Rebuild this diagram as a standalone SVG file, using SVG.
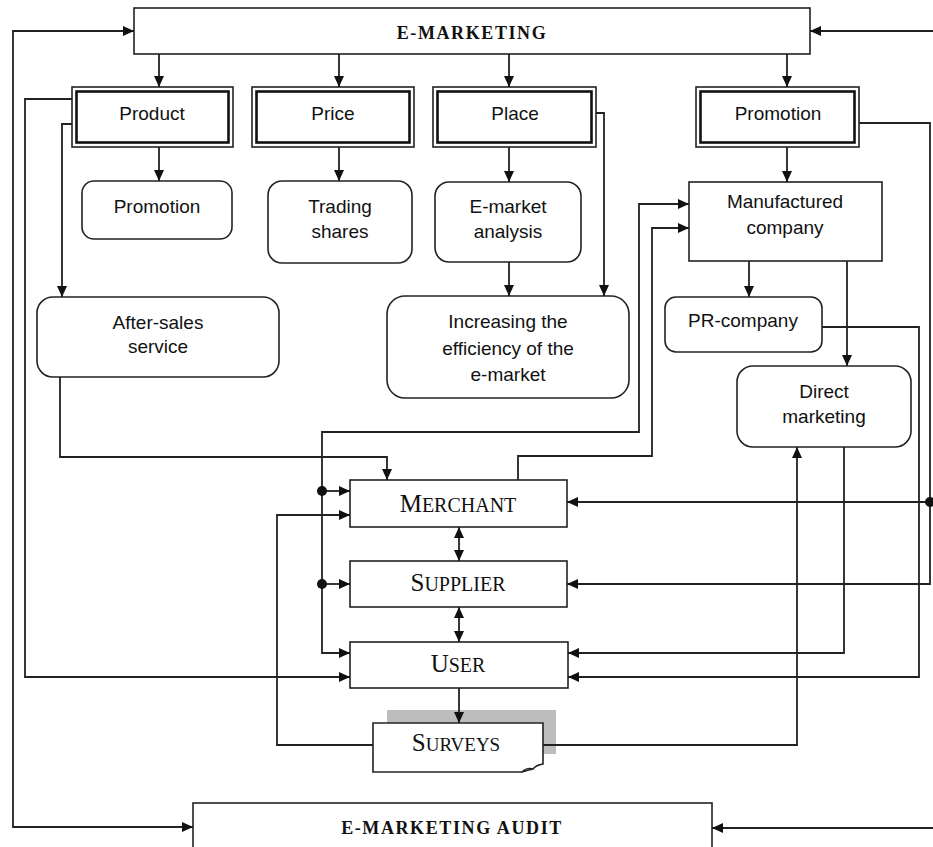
<svg xmlns="http://www.w3.org/2000/svg" width="933" height="847" viewBox="0 0 933 847">
<style>
.box{fill:#fff;stroke:#222;stroke-width:1.6}
.thick{fill:none;stroke:#111;stroke-width:2.6}
.c{fill:none;stroke:#222;stroke-width:1.8}
.sans{font-family:"Liberation Sans",Arial,sans-serif;font-size:19px;fill:#111;text-anchor:middle}
.ser{font-family:"Liberation Serif","Times New Roman",serif;fill:#111;text-anchor:middle}
.title{font-family:"Liberation Serif","Times New Roman",serif;font-weight:bold;font-size:18px;letter-spacing:1.6px;fill:#111;text-anchor:middle}
.big{font-size:25px}
.sm{font-size:20px}
</style>
<defs>
<marker id="ar" markerUnits="userSpaceOnUse" markerWidth="11" markerHeight="10" refX="11" refY="5" orient="auto-start-reverse">
<path d="M0,0 L11,5 L0,10 z" fill="#111"/>
</marker>
</defs>

<g id="e-marketing">
<rect class="box" x="134" y="8" width="676" height="46"/>
<text class="title" x="472" y="39">E-MARKETING</text>
</g>

<g id="product">
<rect class="box" x="72" y="87" width="161" height="60"/>
<rect class="thick" x="76.5" y="91.5" width="152" height="51"/>
<text class="sans" x="152" y="120">Product</text>
</g>
<g id="price">
<rect class="box" x="252" y="87" width="162" height="60"/>
<rect class="thick" x="256.5" y="91.5" width="153" height="51"/>
<text class="sans" x="333" y="120">Price</text>
</g>
<g id="place">
<rect class="box" x="433" y="87" width="163" height="60"/>
<rect class="thick" x="437.5" y="91.5" width="154" height="51"/>
<text class="sans" x="515" y="120">Place</text>
</g>
<g id="promotion-top">
<rect class="box" x="696" y="87" width="163" height="60"/>
<rect class="thick" x="700.5" y="91.5" width="154" height="51"/>
<text class="sans" x="778" y="120">Promotion</text>
</g>

<g id="promotion-sub">
<rect class="box" x="82" y="181" width="150" height="58" rx="12"/>
<text class="sans" x="157" y="213">Promotion</text>
</g>
<g id="trading-shares">
<rect class="box" x="268" y="181" width="144" height="82" rx="14"/>
<text class="sans" x="340" y="213">Trading</text>
<text class="sans" x="340" y="238">shares</text>
</g>
<g id="e-market-analysis">
<rect class="box" x="435" y="182" width="146" height="80" rx="14"/>
<text class="sans" x="508" y="213">E-market</text>
<text class="sans" x="508" y="238">analysis</text>
</g>
<g id="increasing">
<rect class="box" x="387" y="296" width="242" height="102" rx="18"/>
<text class="sans" x="508" y="328">Increasing the</text>
<text class="sans" x="508" y="355">efficiency of the</text>
<text class="sans" x="508" y="381">e-market</text>
</g>
<g id="manufactured-company">
<rect class="box" x="689" y="182" width="193" height="79"/>
<text class="sans" x="785" y="208">Manufactured</text>
<text class="sans" x="785" y="234">company</text>
</g>
<g id="pr-company">
<rect class="box" x="665" y="297" width="157" height="55" rx="11"/>
<text class="sans" x="743" y="327">PR-company</text>
</g>
<g id="direct-marketing">
<rect class="box" x="737" y="366" width="174" height="81" rx="16"/>
<text class="sans" x="824" y="398">Direct</text>
<text class="sans" x="824" y="423">marketing</text>
</g>
<g id="after-sales">
<rect class="box" x="37" y="297" width="242" height="80" rx="16"/>
<text class="sans" x="158" y="329">After-sales</text>
<text class="sans" x="158" y="353">service</text>
</g>

<g id="merchant">
<rect class="box" x="350" y="480" width="217" height="47"/>
<text class="ser" x="458" y="512"><tspan class="big">M</tspan><tspan class="sm">ERCHANT</tspan></text>
</g>
<g id="supplier">
<rect class="box" x="350" y="561" width="217" height="46"/>
<text class="ser" x="458" y="591"><tspan class="big">S</tspan><tspan class="sm">UPPLIER</tspan></text>
</g>
<g id="user">
<rect class="box" x="350" y="642" width="218" height="46"/>
<text class="ser" x="458" y="672"><tspan class="big">U</tspan><tspan class="sm">SER</tspan></text>
</g>
<g id="surveys">
<rect x="387" y="710" width="169" height="44" fill="#bdbdbd"/>
<path class="box" d="M373,723 H543 V764 Q536,765 533,769 Q528,770 522,772 H373 Z"/>
<path d="M522,772 Q527,767 533,769" fill="none" stroke="#222" stroke-width="1.2"/>
<text class="ser" x="456" y="751"><tspan class="big">S</tspan><tspan style="font-size:19px">URVEYS</tspan></text>
</g>

<g id="e-marketing-audit">
<rect class="box" x="193" y="803" width="519" height="60"/>
<text class="title" x="452" y="834">E-MARKETING AUDIT</text>
</g>

<g id="connectors">
<path class="c" d="M159,54 V87" marker-end="url(#ar)"/>
<path class="c" d="M339,54 V87" marker-end="url(#ar)"/>
<path class="c" d="M509,54 V87" marker-end="url(#ar)"/>
<path class="c" d="M787,54 V87" marker-end="url(#ar)"/>
<path class="c" d="M159,147 V181" marker-end="url(#ar)"/>
<path class="c" d="M339,147 V181" marker-end="url(#ar)"/>
<path class="c" d="M509,147 V182" marker-end="url(#ar)"/>
<path class="c" d="M509,262 V296" marker-end="url(#ar)"/>
<path class="c" d="M596,113 H604 V296" marker-end="url(#ar)"/>
<path class="c" d="M787,147 V182" marker-end="url(#ar)"/>
<path class="c" d="M749,261 V297" marker-end="url(#ar)"/>
<path class="c" d="M847,261 V366" marker-end="url(#ar)"/>
<path class="c" d="M859,123 H930 V584 H567" marker-end="url(#ar)"/>
<path class="c" d="M930,502 H567" marker-end="url(#ar)"/>
<circle cx="930" cy="502" r="5" fill="#111"/>
<path class="c" d="M822,327 H919 V677 H568" marker-end="url(#ar)"/>
<path class="c" d="M844,447 V653 H568" marker-end="url(#ar)"/>
<path class="c" d="M543,745 H797 V447" marker-end="url(#ar)"/>
<path class="c" d="M373,745 H277 V515 H350" marker-end="url(#ar)"/>
<path class="c" d="M72,99 H25 V677 H350" marker-end="url(#ar)"/>
<path class="c" d="M72,124 H62 V297" marker-end="url(#ar)"/>
<path class="c" d="M60,377 V457 H387 V480" marker-end="url(#ar)"/>
<path class="c" d="M689,204 H639 V432 H322 V653 H350" marker-start="url(#ar)" marker-end="url(#ar)"/>
<path class="c" d="M322,491 H350" marker-end="url(#ar)"/>
<circle cx="322" cy="491" r="5" fill="#111"/>
<path class="c" d="M322,584 H350" marker-end="url(#ar)"/>
<circle cx="322" cy="584" r="5" fill="#111"/>
<path class="c" d="M518,480 V456 H652 V228 H689" marker-end="url(#ar)"/>
<path class="c" d="M459,527 V561" marker-start="url(#ar)" marker-end="url(#ar)"/>
<path class="c" d="M459,607 V642" marker-start="url(#ar)" marker-end="url(#ar)"/>
<path class="c" d="M459,688 V723" marker-end="url(#ar)"/>
<path class="c" d="M134,31 H13 V827 H193" marker-start="url(#ar)" marker-end="url(#ar)"/>
<path class="c" d="M933,31 H810" marker-end="url(#ar)"/>
<path class="c" d="M933,828 H712" marker-end="url(#ar)"/>
</g>
</svg>
